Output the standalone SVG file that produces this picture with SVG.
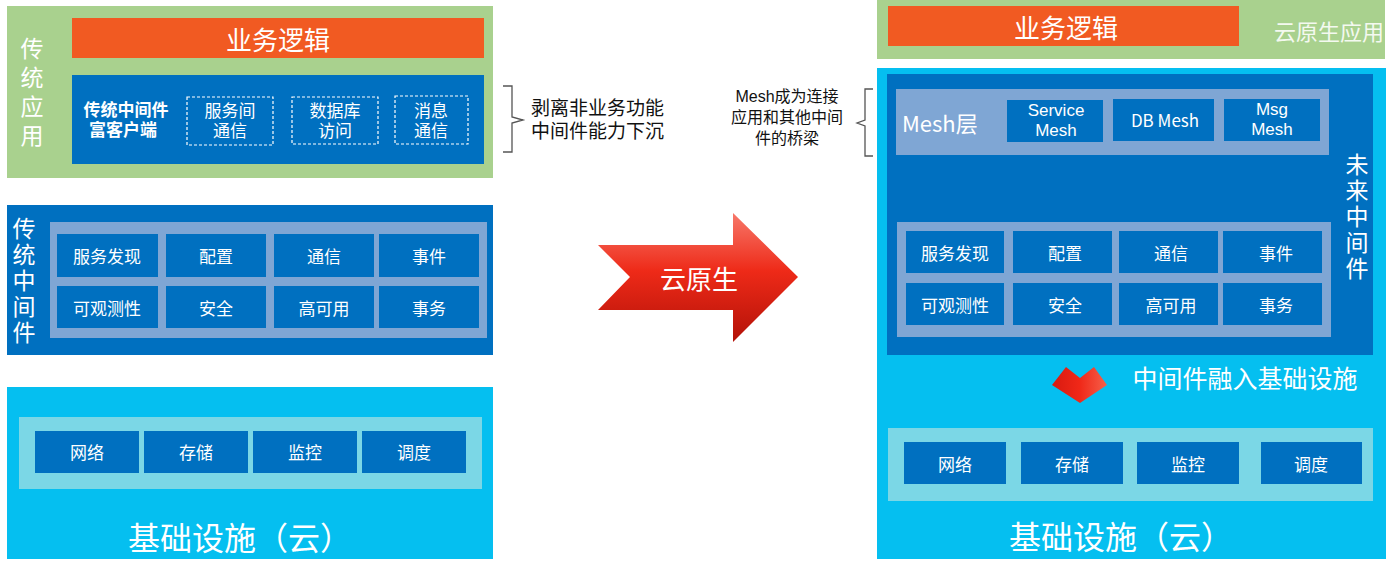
<svg xmlns="http://www.w3.org/2000/svg" width="1400" height="577" viewBox="0 0 1400 577">
<defs>
<style>
text{font-family:"Microsoft YaHei","Noto Sans CJK SC","Noto Sans",sans-serif;fill:#ffffff;text-anchor:middle;dominant-baseline:central}
text.ml{font-family:"Liberation Sans","Noto Sans CJK SC",sans-serif}
.green{fill:#a9d18e}
.orange{fill:#f15a22}
.blue{fill:#0070c0}
.lblue{fill:#7fa6d4}
.cyan{fill:#05bff0}
.icyan{fill:#7bd7e6}
.cell{fill:#0070c0}
.dash{fill:none;stroke:#ffffff;stroke-width:1.2;stroke-dasharray:3 2}
.t17{font-size:17px}
.t26{font-size:26px}
.big{font-size:32px}
.vt{font-size:23px;writing-mode:vertical-rl;text-anchor:start}
.dark{fill:#111111;text-anchor:start}
.brace{fill:none;stroke:#555555;stroke-width:1.3}
</style>
<linearGradient id="redg" x1="0" y1="0" x2="0" y2="1">
<stop offset="0" stop-color="#f7786a"/>
<stop offset="0.45" stop-color="#ee2a18"/>
<stop offset="1" stop-color="#b31208"/>
</linearGradient>
<linearGradient id="redh" x1="0" y1="0" x2="1" y2="0">
<stop offset="0" stop-color="#d81a10"/>
<stop offset="0.5" stop-color="#f02818"/>
<stop offset="1" stop-color="#f5604a"/>
</linearGradient>
</defs>

<!-- LEFT: traditional application -->
<g id="trad-app">
<rect class="green" x="7" y="6" width="486" height="172"/>
<text class="vt" x="32" y="36.5" style="letter-spacing:6px">传统应用</text>
</g>
<g id="biz-left">
<rect class="orange" x="72" y="18" width="412" height="40"/>
<text class="t26" x="278" y="38">业务逻辑</text>
</g>
<g id="rich-client">
<rect class="blue" x="72" y="75" width="412" height="89"/>
<text class="t17 ml" font-weight="bold"><tspan x="126" y="110">传统中间件</tspan><tspan x="123" y="130">富客户端</tspan></text>
</g>
<g id="svc-comm">
<rect class="dash" x="187" y="97" width="86" height="48"/>
<text class="t17 ml"><tspan x="230" y="111">服务间</tspan><tspan x="230" y="131">通信</tspan></text>
</g>
<g id="db-access">
<rect class="dash" x="292" y="97" width="86" height="47"/>
<text class="t17 ml"><tspan x="335" y="111">数据库</tspan><tspan x="335" y="131">访问</tspan></text>
</g>
<g id="msg-comm">
<rect class="dash" x="395" y="96" width="73" height="48"/>
<text class="t17 ml"><tspan x="431" y="111">消息</tspan><tspan x="431" y="131">通信</tspan></text>
</g>

<!-- LEFT: traditional middleware -->
<g id="trad-mw">
<rect class="blue" x="7" y="205" width="486" height="150"/>
<rect class="lblue" x="50" y="222" width="437" height="116"/>
<text class="vt" x="24" y="216.5" style="letter-spacing:3px">传统中间件</text>
</g>
<g id="l-discovery"><rect class="cell" x="57" y="234" width="101" height="43"/><text class="t17" x="107" y="255">服务发现</text></g>
<g id="l-config"><rect class="cell" x="166" y="234" width="100" height="43"/><text class="t17" x="216" y="255">配置</text></g>
<g id="l-comm"><rect class="cell" x="274" y="234" width="100" height="43"/><text class="t17" x="324" y="255">通信</text></g>
<g id="l-event"><rect class="cell" x="379" y="234" width="100" height="43"/><text class="t17" x="429" y="255">事件</text></g>
<g id="l-observ"><rect class="cell" x="57" y="286" width="101" height="42"/><text class="t17" x="107" y="307">可观测性</text></g>
<g id="l-security"><rect class="cell" x="166" y="286" width="100" height="42"/><text class="t17" x="216" y="307">安全</text></g>
<g id="l-ha"><rect class="cell" x="274" y="286" width="100" height="42"/><text class="t17" x="324" y="307">高可用</text></g>
<g id="l-tx"><rect class="cell" x="379" y="286" width="100" height="42"/><text class="t17" x="429" y="307">事务</text></g>

<!-- LEFT: infrastructure -->
<g id="l-infra">
<rect class="cyan" x="7" y="387" width="486" height="172"/>
<rect class="icyan" x="19" y="417" width="463" height="72"/>
<text class="big" x="240" y="536">基础设施（云）</text>
</g>
<g id="l-net"><rect class="cell" x="35" y="431" width="104" height="42"/><text class="t17" x="87" y="451">网络</text></g>
<g id="l-storage"><rect class="cell" x="144" y="431" width="104" height="42"/><text class="t17" x="196" y="451">存储</text></g>
<g id="l-monitor"><rect class="cell" x="253" y="431" width="104" height="42"/><text class="t17" x="305" y="451">监控</text></g>
<g id="l-sched"><rect class="cell" x="362" y="431" width="104" height="42"/><text class="t17" x="414" y="451">调度</text></g>

<!-- annotations -->
<g id="note-left">
<path class="brace" d="M503 86 H512 V117 L523 120 L512 123 V152 H503"/>
<text class="dark ml" font-size="19"><tspan x="531" y="108">剥离非业务功能</tspan><tspan x="531" y="131">中间件能力下沉</tspan></text>
</g>
<g id="note-right">
<path class="brace" d="M873 89 H865 V120 L857 123 L865 126 V156 H873"/>
<text class="ml" font-size="16" style="fill:#111111"><tspan x="787" y="96">Mesh成为连接</tspan><tspan x="787" y="117">应用和其他中间</tspan><tspan x="787" y="138">件的桥梁</tspan></text>
</g>

<!-- big arrow -->
<g id="cloud-native-arrow">
<path d="M598 245 H733 V213 L798 277 L733 342 V310 H598 L630 277 Z" fill="url(#redg)"/>
<text class="t26" x="699" y="277">云原生</text>
</g>

<!-- RIGHT: cloud native app -->
<g id="cn-app">
<rect class="green" x="877" y="0" width="508" height="59"/>
<text x="1329" y="30" font-size="22" style="fill:#f4f9f0">云原生应用</text>
</g>
<g id="biz-right">
<rect class="orange" x="888" y="6" width="351" height="40"/>
<text class="t26" x="1066" y="26">业务逻辑</text>
</g>

<!-- RIGHT: outer infra + future middleware -->
<g id="r-infra">
<rect class="cyan" x="877" y="68" width="509" height="491"/>
<rect class="icyan" x="888" y="428" width="485" height="73"/>
<text class="big" x="1121" y="535">基础设施（云）</text>
</g>
<g id="future-mw">
<rect class="blue" x="887" y="74" width="486" height="281"/>
<rect class="lblue" x="897" y="222" width="434" height="115"/>
<text class="vt" x="1357" y="152.5" style="letter-spacing:3px">未来中间件</text>
</g>
<g id="mesh-layer">
<rect class="lblue" x="896" y="89" width="433" height="66"/>
<text x="902" y="122" font-size="22" style="text-anchor:start">Mesh层</text>
</g>
<g id="service-mesh"><rect class="cell" x="1007" y="100" width="96" height="42"/><text class="t17 ml"><tspan x="1056" y="110">Service</tspan><tspan x="1056" y="130">Mesh</tspan></text></g>
<g id="db-mesh"><rect class="cell" x="1113" y="99" width="101" height="42"/><text class="t17" x="1165" y="119">DB Mesh</text></g>
<g id="msg-mesh"><rect class="cell" x="1224" y="99" width="96" height="42"/><text class="t17 ml"><tspan x="1272" y="109">Msg</tspan><tspan x="1272" y="129">Mesh</tspan></text></g>

<g id="r-discovery"><rect class="cell" x="906" y="231" width="98" height="42"/><text class="t17" x="955" y="252">服务发现</text></g>
<g id="r-config"><rect class="cell" x="1013" y="231" width="99" height="42"/><text class="t17" x="1065" y="252">配置</text></g>
<g id="r-comm"><rect class="cell" x="1119" y="231" width="99" height="42"/><text class="t17" x="1171" y="252">通信</text></g>
<g id="r-event"><rect class="cell" x="1223" y="231" width="99" height="42"/><text class="t17" x="1276" y="252">事件</text></g>
<g id="r-observ"><rect class="cell" x="906" y="283" width="98" height="42"/><text class="t17" x="955" y="304">可观测性</text></g>
<g id="r-security"><rect class="cell" x="1013" y="283" width="99" height="42"/><text class="t17" x="1065" y="304">安全</text></g>
<g id="r-ha"><rect class="cell" x="1119" y="283" width="99" height="42"/><text class="t17" x="1171" y="304">高可用</text></g>
<g id="r-tx"><rect class="cell" x="1223" y="283" width="99" height="42"/><text class="t17" x="1276" y="304">事务</text></g>

<g id="sink-arrow">
<path d="M1066 367 L1080 378 L1094 367 L1107 385 L1080 403 L1052 385 Z" fill="url(#redh)"/>
<text x="1245" y="377" font-size="25">中间件融入基础设施</text>
</g>

<g id="r-net"><rect class="cell" x="904" y="442" width="102" height="42"/><text class="t17" x="955" y="463">网络</text></g>
<g id="r-storage"><rect class="cell" x="1021" y="442" width="102" height="42"/><text class="t17" x="1072" y="463">存储</text></g>
<g id="r-monitor"><rect class="cell" x="1137" y="442" width="102" height="42"/><text class="t17" x="1188" y="463">监控</text></g>
<g id="r-sched"><rect class="cell" x="1261" y="442" width="101" height="42"/><text class="t17" x="1311" y="463">调度</text></g>

<g id="connectors"></g>
</svg>
